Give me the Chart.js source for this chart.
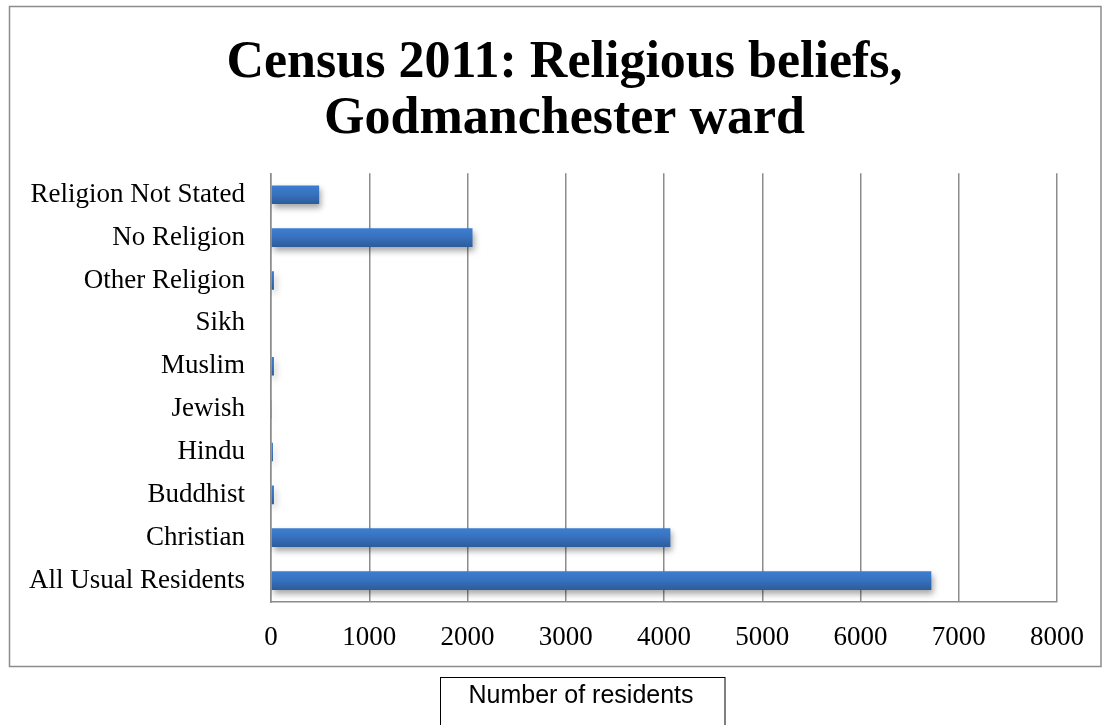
<!DOCTYPE html>
<html>
<head>
<meta charset="utf-8">
<script src="https://cdn.jsdelivr.net/npm/chart.js@4/dist/chart.umd.min.js"></script>
<style>
  html, body { margin: 0; padding: 0; background: #ffffff; }
  #wrap { position: relative; width: 1106px; height: 725px; }
</style>
</head>
<body>
<div id="wrap"><canvas id="c" width="1106" height="725"></canvas></div>
<script>
// Categories listed bottom-to-top as in the reference
const categories = [
  "All Usual Residents",
  "Christian",
  "Buddhist",
  "Hindu",
  "Jewish",
  "Muslim",
  "Sikh",
  "Other Religion",
  "No Religion",
  "Religion Not Stated"
];
const residents = [6721, 4065, 30, 20, 10, 30, 0, 30, 2051, 490];
const xTicks = [0, 1000, 2000, 3000, 4000, 5000, 6000, 7000, 8000];
const titleLines = ["Census 2011: Religious beliefs,", "Godmanchester ward"];
const axisTitle = "Number of residents";

const serif = "'Liberation Serif', 'Times New Roman', serif";
const sans = "'Liberation Sans', Arial, sans-serif";

const frame = {
  id: 'frame',
  afterLayout(chart) {
    // shift title block to match reference centre
    if (chart.titleBlock) {
      chart.titleBlock.left += 36;
      chart.titleBlock.right += 36;
    }
  },
  beforeDatasetsDraw(chart) {
    const ctx = chart.ctx;
    ctx.save();
    ctx.shadowColor = 'rgba(0,0,0,0.35)';
    ctx.shadowBlur = 6;
    ctx.shadowOffsetX = 2;
    ctx.shadowOffsetY = 4;
  },
  afterDatasetsDraw(chart) {
    chart.ctx.restore();
  },
  afterDraw(chart) {
    const ctx = chart.ctx;
    ctx.save();
    // outer chart border
    ctx.strokeStyle = '#8c8c8c';
    ctx.lineWidth = 1.5;
    ctx.strokeRect(9.5, 6.5, 1091.5, 660);
    // axis title box
    ctx.fillStyle = '#ffffff';
    ctx.fillRect(440, 677, 285, 60);
    ctx.strokeStyle = '#000000';
    ctx.lineWidth = 1;
    ctx.strokeRect(440.5, 677.5, 284.5, 60);
    ctx.fillStyle = '#000000';
    ctx.font = "25px " + sans;
    ctx.textAlign = 'center';
    ctx.textBaseline = 'alphabetic';
    ctx.fillText(axisTitle, 581, 703);
    ctx.restore();
  }
};

function barGradient(context) {
  const chart = context.chart;
  const y = chart.scales.y;
  if (!chart.chartArea || !y) return '#3a78c8';
  const cy = y.getPixelForValue(context.dataIndex);
  const h = 10;
  const g = chart.ctx.createLinearGradient(0, cy - h, 0, cy + h);
  g.addColorStop(0, '#3d7fd2');
  g.addColorStop(0.45, '#3872c0');
  g.addColorStop(1, '#2c5a98');
  return g;
}

new Chart(document.getElementById('c'), {
  type: 'bar',
  data: {
    labels: categories,
    datasets: [{
      data: residents,
      backgroundColor: barGradient,
      borderWidth: 0,
      barPercentage: 0.435,
      categoryPercentage: 1.0
    }]
  },
  options: {
    indexAxis: 'y',
    responsive: false,
    animation: false,
    events: [],
    layout: { padding: { left: 0, right: 49, top: 0, bottom: 0 } },
    plugins: {
      legend: { display: false },
      tooltip: { enabled: false },
      title: {
        display: true,
        text: titleLines,
        color: '#000000',
        font: { family: serif, size: 52, weight: 'bold', lineHeight: 1.08 },
        padding: { top: 35, bottom: 26 }
      }
    },
    scales: {
      x: {
        type: 'linear',
        min: 0,
        max: 8000,
        afterBuildTicks(scale) { scale.ticks = xTicks.map(v => ({ value: v })); },
        afterFit(scale) { scale.height = 123; },
        grid: { display: true, color: '#8c8c8c', lineWidth: 1.5, drawTicks: false },
        border: { display: true, color: '#8c8c8c', width: 1.5 },
        ticks: {
          color: '#000000',
          font: { family: serif, size: 27 },
          padding: 20,
          maxRotation: 0,
          autoSkip: false,
          callback: (v) => String(v)
        }
      },
      y: {
        reverse: true,
        afterFit(scale) { scale.width = 271; },
        grid: { display: false, drawTicks: false },
        border: { display: true, color: '#8c8c8c', width: 1.5 },
        ticks: {
          color: '#000000',
          font: { family: serif, size: 27 },
          padding: 26,
          autoSkip: false
        }
      }
    }
  },
  plugins: [frame]
});
</script>
</body>
</html>
